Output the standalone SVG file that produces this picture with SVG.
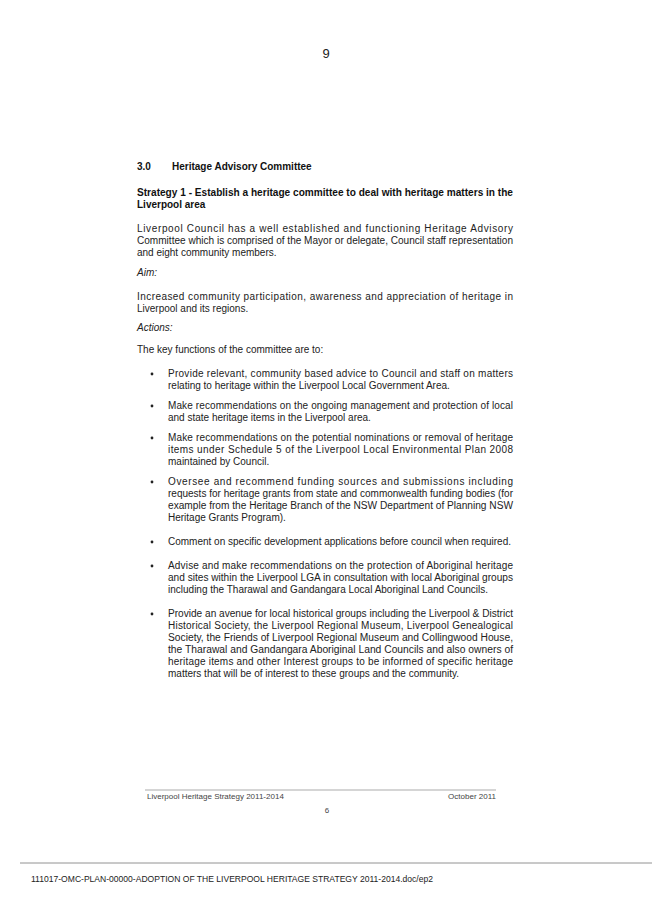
<svg xmlns="http://www.w3.org/2000/svg" width="652" height="922" viewBox="0 0 652 922">
<style>
text{font-family:"Liberation Sans",Arial,sans-serif;font-size:10px;fill:#222}
.b{font-weight:bold;fill:#111}
.i{font-style:italic}
.s{font-size:8px;fill:#444}
</style>
<rect width="652" height="922" fill="#fff"/>
<text x="326" y="58" font-size="13" text-anchor="middle" style="font-size:13px">9</text>
<text class="b" x="137" y="170">3.0</text>
<text class="b" x="172" y="170">Heritage Advisory Committee</text>
<text class="b" x="137" y="196" textLength="376" lengthAdjust="spacingAndGlyphs">Strategy 1 - Establish a heritage committee to deal with heritage matters in the</text>
<text class="b" x="137" y="208">Liverpool area</text>
<text x="137" y="232" textLength="376" lengthAdjust="spacing">Liverpool Council has a well established and functioning Heritage Advisory</text>
<text x="137" y="244" textLength="376" lengthAdjust="spacingAndGlyphs">Committee which is comprised of the Mayor or delegate, Council staff representation</text>
<text x="137" y="256">and eight community members.</text>
<text class="i" x="137" y="276">Aim:</text>
<text x="137" y="300" textLength="376" lengthAdjust="spacing">Increased community participation, awareness and appreciation of heritage in</text>
<text x="137" y="312">Liverpool and its regions.</text>
<text class="i" x="137" y="331">Actions:</text>
<text x="137" y="353">The key functions of the committee are to:</text>
<g id="bullets">
<g fill="#222"><circle cx="152" cy="374" r="1.4"/><circle cx="152" cy="406" r="1.4"/><circle cx="152" cy="438" r="1.4"/><circle cx="152" cy="482" r="1.4"/><circle cx="152" cy="542" r="1.4"/><circle cx="152" cy="566" r="1.4"/><circle cx="152" cy="614" r="1.4"/></g>
<text x="168" y="377" textLength="345" lengthAdjust="spacing">Provide relevant, community based advice to Council and staff on matters</text>
<text x="168" y="389">relating to heritage within the Liverpool Local Government Area.</text>
<text x="168" y="409" textLength="345" lengthAdjust="spacing">Make recommendations on the ongoing management and protection of local</text>
<text x="168" y="421">and state heritage items in the Liverpool area.</text>
<text x="168" y="441" textLength="345" lengthAdjust="spacing">Make recommendations on the potential nominations or removal of heritage</text>
<text x="168" y="453" textLength="345" lengthAdjust="spacing">items under Schedule 5 of the Liverpool Local Environmental Plan 2008</text>
<text x="168" y="465">maintained by Council.</text>
<text x="168" y="485" textLength="345" lengthAdjust="spacing">Oversee and recommend funding sources and submissions including</text>
<text x="168" y="497" textLength="345" lengthAdjust="spacingAndGlyphs">requests for heritage grants from state and commonwealth funding bodies (for</text>
<text x="168" y="509" textLength="345" lengthAdjust="spacingAndGlyphs">example from the Heritage Branch of the NSW Department of Planning NSW</text>
<text x="168" y="521">Heritage Grants Program).</text>
<text x="168" y="545">Comment on specific development applications before council when required.</text>
<text x="168" y="569" textLength="345" lengthAdjust="spacing">Advise and make recommendations on the protection of Aboriginal heritage</text>
<text x="168" y="581" textLength="345" lengthAdjust="spacingAndGlyphs">and sites within the Liverpool LGA in consultation with local Aboriginal groups</text>
<text x="168" y="593">including the Tharawal and Gandangara Local Aboriginal Land Councils.</text>
<text x="168" y="617" textLength="345" lengthAdjust="spacingAndGlyphs">Provide an avenue for local historical groups including the Liverpool &amp; District</text>
<text x="168" y="629" textLength="345" lengthAdjust="spacing">Historical Society, the Liverpool Regional Museum, Liverpool Genealogical</text>
<text x="168" y="641" textLength="345" lengthAdjust="spacingAndGlyphs">Society, the Friends of Liverpool Regional Museum and Collingwood House,</text>
<text x="168" y="653" textLength="345" lengthAdjust="spacingAndGlyphs">the Tharawal and Gandangara Aboriginal Land Councils and also owners of</text>
<text x="168" y="665" textLength="345" lengthAdjust="spacing">heritage items and other Interest groups to be informed of specific heritage</text>
<text x="168" y="677">matters that will be of interest to these groups and the community.</text>
</g>
<g id="footer">
<line x1="145" y1="790" x2="496" y2="790" stroke="#888" stroke-width="0.7"/>
<text class="s" x="147" y="799">Liverpool Heritage Strategy 2011-2014</text>
<text class="s" x="496" y="799" text-anchor="end">October 2011</text>
<text class="s" x="327" y="813" text-anchor="middle">6</text>
<line x1="20" y1="863" x2="652" y2="863" stroke="#777" stroke-width="0.8"/>
<text x="31" y="882" style="font-size:9px" textLength="402" lengthAdjust="spacingAndGlyphs">111017-OMC-PLAN-00000-ADOPTION OF THE LIVERPOOL HERITAGE STRATEGY 2011-2014.doc/ep2</text>
</g>
</svg>
